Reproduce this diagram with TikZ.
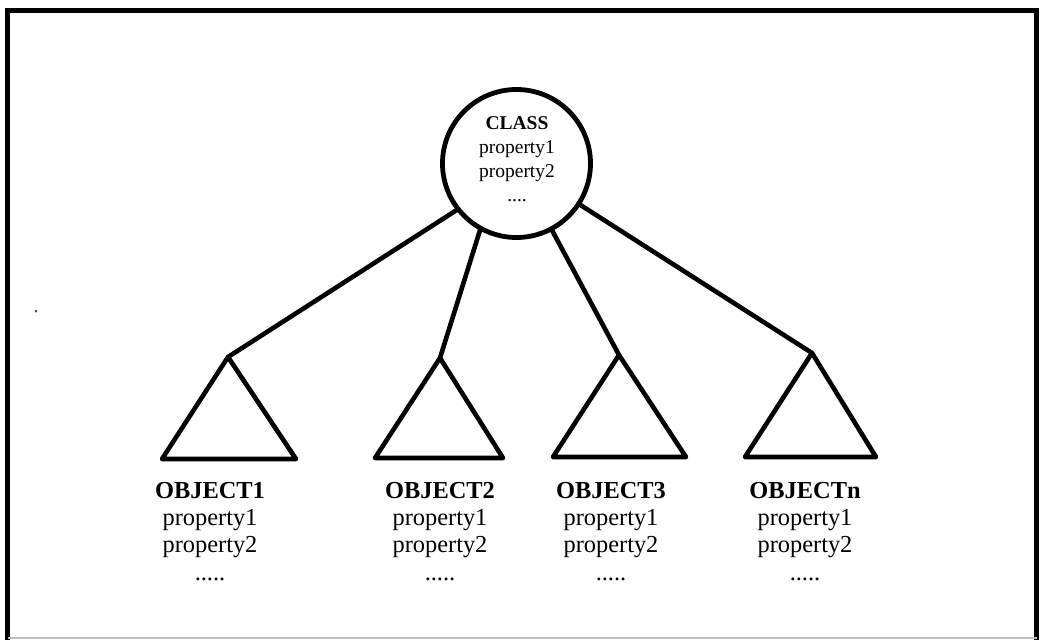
\documentclass[tikz,border=0pt]{standalone}
\usepackage{fontspec}
\setmainfont{Liberation Serif}
\begin{document}
\begin{tikzpicture}[x=1pt,y=-1pt,
  frameline/.style={line width=5pt},
  bold line/.style={line width=4.6pt, line cap=round, line join=round},
  classnode/.style={circle, draw, line width=4.8pt, minimum size=148pt, inner sep=0pt, outer sep=0pt},
  classtext/.style={anchor=base, align=center, inner sep=0pt, font=\fontsize{19.5}{24}\selectfont},
  objtext/.style={anchor=base, align=center, inner sep=0pt, font=\fontsize{24.4}{27.3}\selectfont}]
\useasboundingbox (0,0) rectangle (1039,640);

% outer frame
\draw[frameline] (7.5,640) -- (7.5,10.5) -- (1036.5,10.5) -- (1036.5,640);
\draw[line width=2pt, black!25] (7.5,638) -- (1036.5,638);
\fill[black!70] (36,311) circle (1.5);

% class circle (label anchored on its last line)
\node[classnode] (class) at (516.5,163.5) {};
\node[classtext] (classlbl) at (517,201) {\textbf{CLASS}\\property1\\property2\\....};

% object triangles
\coordinate (a1) at (228,357);
\coordinate (a2) at (440,358);
\coordinate (a3) at (619,355);
\coordinate (a4) at (812,353);
\draw[bold line] (162,459) -- (a1) -- (296,459) -- cycle;
\draw[bold line] (375,458) -- (a2) -- (503,458) -- cycle;
\draw[bold line] (553,457) -- (a3) -- (686,457) -- cycle;
\draw[bold line] (745,457) -- (a4) -- (876,457) -- cycle;

% connectors from the class to its objects
\draw[bold line] (class.218) -- (a1);
\draw[bold line] (class.241) -- (a2);
\draw[bold line] (class.298) -- (a3);
\draw[bold line] (class.327) -- (a4);

% object labels (anchored on their last line)
\node[objtext] (o1) at (210,580) {\textbf{OBJECT1}\\property1\\property2\\.....};
\node[objtext] (o2) at (440,580) {\textbf{OBJECT2}\\property1\\property2\\.....};
\node[objtext] (o3) at (611,580) {\textbf{OBJECT3}\\property1\\property2\\.....};
\node[objtext] (o4) at (805,580) {\textbf{OBJECTn}\\property1\\property2\\.....};
\end{tikzpicture}
\end{document}
